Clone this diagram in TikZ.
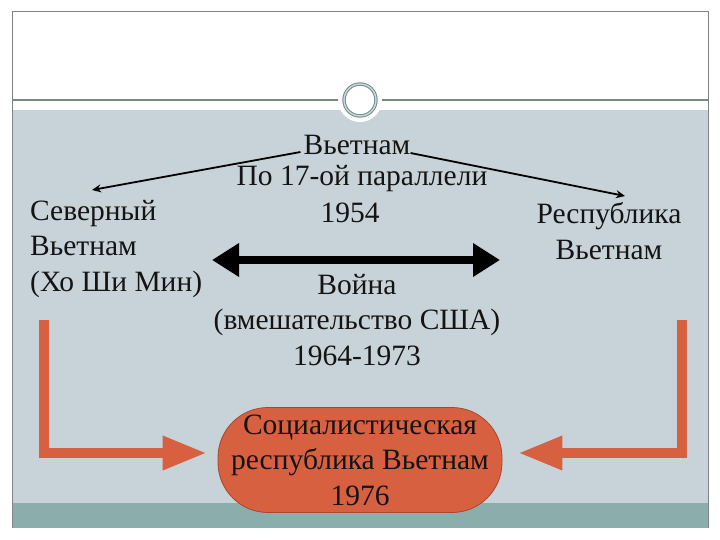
\documentclass[tikz,border=0pt]{standalone}
\usepackage{fontspec}
\setmainfont{Liberation Serif}
\usepackage{xcolor}
\definecolor{slate}{HTML}{C8D3D9}
\definecolor{seagreen}{HTML}{8BAEAD}
\definecolor{frame}{HTML}{7F8485}
\definecolor{ring}{HTML}{6F8C8C}
\definecolor{brick}{HTML}{D6603F}
\definecolor{brickdark}{HTML}{A9472C}
\definecolor{ink}{HTML}{141414}
\usetikzlibrary{arrows.meta,positioning}

\begin{document}
\begin{tikzpicture}[x=1pt,y=-1pt,
  txt/.style={font=\fontsize{29.5}{35.5}\selectfont,inner sep=0pt,text=ink},
  thinarrow/.style={-{Stealth[length=9pt,width=8pt]},line width=1.8pt},
  blockarrow/.style={brick,line width=9.5pt,-{Triangle[length=44pt,width=32pt]}},
  wararrow/.style={{Triangle[length=27pt,width=32pt]}-{Triangle[length=27pt,width=32pt]},line width=8pt}]
  \useasboundingbox (0,0) rectangle (720,540);
  % slide bands and frame
  \fill[slate] (12,110) rectangle (708,503);
  \fill[seagreen] (12,503) rectangle (708,528);
  \draw[frame,line width=1pt] (12,528) -- (12,12) -- (708,12) -- (708,528);
  \draw[frame,line width=1.2pt] (12,100) -- (708,100);
  % medallion
  \fill[white] (360,100) circle (22);
  \draw[ring,line width=1pt,double=ring!35,double distance=1.4pt] (360,100) circle (16);
  % partition 1954
  \node[txt] (viet) at (357,145) {Вьетнам};
  \node[txt] (par) at (362,179) {По 17-ой параллели};
  \node[txt] (truce) at (350,213) {1954};
  \node[txt,align=left,anchor=west] (north) at (30,249) {Северный\\Вьетнам\\(Хо Ши Мин)};
  \node[txt,align=center] (south) at (609,231) {Республика\\Вьетнам};
  \coordinate (ntip) at (92,190);
  \coordinate (stip) at (625,196);
  \draw[thinarrow] ([xshift=-3pt,yshift=3pt]viet.south west) -- (ntip);
  \draw[thinarrow] ([yshift=2pt]viet.south east) -- (stip);
  % war
  \node[txt,align=center] (war) at (357,320) {Война\\(вмешательство США)\\1964-1973};
  \coordinate (wl) at (212,260);
  \coordinate (wr) at (500,260);
  \draw[wararrow] (wl) -- (wr);
  % reunification
  \node[txt,fill=brick,draw=brickdark,line width=0.8pt,rounded corners=50pt,
        minimum width=284pt,minimum height=105pt,align=center] (srv) at (360,460)
    {Социалистическая\\республика Вьетнам\\1976};
  \coordinate (nfoot) at (44,320);
  \coordinate (sfoot) at (682,320);
  \draw[blockarrow] (nfoot) |- ([xshift=-11pt,yshift=7pt]srv.west);
  \draw[blockarrow] (sfoot) |- ([xshift=16pt,yshift=7pt]srv.east);
\end{tikzpicture}
\end{document}
